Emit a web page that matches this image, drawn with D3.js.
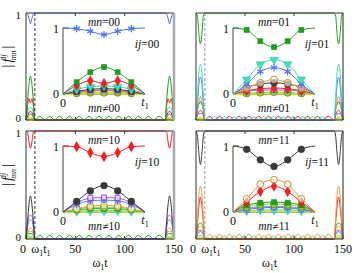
<!DOCTYPE html>
<html>
<head>
<meta charset="utf-8">
<script src="https://cdn.jsdelivr.net/npm/d3@7"></script>
<style>
  body { margin: 0; background: #fff; }
  text { font-family: "Liberation Serif", "DejaVu Serif", serif; fill: #111; }
</style>
</head>
<body>
<svg id="chart" width="355" height="273"></svg>
<script>
// inset time grid, in units of t1 (markers sit on the inner five points)
const insetT = [0, 1/6, 1/3, 1/2, 2/3, 5/6, 1];
const t1 = 9;
const tMax = 150;

// zeros and peaks of the small ripples between the two pulses
const rippleT = [9, 14, 19, 24, 29, 34, 39, 44, 49, 54, 59, 64, 69, 74, 79, 84, 89, 94, 99, 104, 109, 114, 119, 124, 129, 135, 141];
const rippleA = [0, .035, 0, .035, 0, .035, 0, .035, 0, .035, 0, .035, 0, .035, 0, .035, 0, .035, 0, .035, 0, .035, 0, .035, 0, .035, 0];
const rippleB = [0, 0, .03, 0, .03, 0, .03, 0, .03, 0, .03, 0, .03, 0, .03, 0, .03, 0, .03, 0, .03, 0, .03, 0, .03, 0, 0];
const rippleC = [0, .045, 0, .045, 0, .045, 0, .045, 0, .045, 0, .045, 0, .045, 0, .045, 0, .045, 0, .045, 0, .045, 0, .045, 0, .045, 0];

// |f| values on insetT, one object per panel (ij)
const ij00 = {
  yellow: [0, 0.00, 0.01, 0.01, 0.01, 0.00, 0],
  lime:   [0, 0.01, 0.02, 0.02, 0.02, 0.01, 0],
  orange: [0, 0.02, 0.04, 0.05, 0.04, 0.02, 0],
  purple: [0, 0.03, 0.05, 0.06, 0.05, 0.03, 0],
  grey:   [0, 0.04, 0.07, 0.08, 0.07, 0.04, 0],
  cyan:   [0, 0.07, 0.11, 0.12, 0.11, 0.07, 0],
  red:    [0, 0.13, 0.20, 0.16, 0.20, 0.13, 0],
  green:  [0, 0.18, 0.33, 0.41, 0.33, 0.18, 0],
  blue:   [1, 0.99, 0.95, 0.90, 0.95, 0.99, 1]
};
const ij01 = {
  yellow: [0, 0.00, 0.01, 0.01, 0.01, 0.00, 0],
  lime:   [0, 0.01, 0.02, 0.03, 0.02, 0.01, 0],
  purple: [0, 0.04, 0.06, 0.06, 0.06, 0.04, 0],
  red:    [0, 0.05, 0.08, 0.09, 0.08, 0.05, 0],
  grey:   [0, 0.10, 0.15, 0.17, 0.15, 0.10, 0],
  orange: [0, 0.09, 0.17, 0.22, 0.17, 0.09, 0],
  blue:   [0, 0.15, 0.34, 0.40, 0.34, 0.15, 0],
  cyan:   [0, 0.22, 0.45, 0.52, 0.45, 0.22, 0],
  green:  [1, 0.97, 0.80, 0.71, 0.80, 0.97, 1]
};
const ij10 = {
  yellow: [0, 0.00, 0.01, 0.01, 0.01, 0.00, 0],
  cyan:   [0, 0.01, 0.02, 0.02, 0.02, 0.01, 0],
  green:  [0, 0.03, 0.05, 0.05, 0.05, 0.03, 0],
  lime:   [0, 0.04, 0.07, 0.07, 0.07, 0.04, 0],
  orange: [0, 0.05, 0.09, 0.10, 0.09, 0.05, 0],
  blue:   [0, 0.11, 0.17, 0.18, 0.17, 0.11, 0],
  purple: [0, 0.14, 0.21, 0.22, 0.21, 0.14, 0],
  grey:   [0, 0.16, 0.32, 0.40, 0.32, 0.16, 0],
  red:    [1, 0.99, 0.90, 0.84, 0.90, 0.99, 1]
};
const ij11 = {
  yellow: [0, 0.01, 0.01, 0.01, 0.01, 0.01, 0],
  cyan:   [0, 0.02, 0.03, 0.03, 0.03, 0.02, 0],
  blue:   [0, 0.04, 0.06, 0.07, 0.06, 0.04, 0],
  purple: [0, 0.05, 0.08, 0.08, 0.08, 0.05, 0],
  lime:   [0, 0.08, 0.11, 0.12, 0.11, 0.08, 0],
  green:  [0, 0.10, 0.14, 0.15, 0.14, 0.10, 0],
  red:    [0, 0.15, 0.31, 0.39, 0.31, 0.15, 0],
  orange: [0, 0.20, 0.42, 0.49, 0.42, 0.20, 0],
  grey:   [1, 0.95, 0.79, 0.69, 0.79, 0.95, 1]
};

const xTicks = [0, 50, 100, 150];

const colors = {
  blue: '#5070ff', green: '#1f9f1f', red: '#ff1f1f', cyan: '#3ce2b8', grey: '#3a3a3a',
  purple: '#a855ff', orange: '#f0a040', lime: '#8fe01e', yellow: '#e6e61a'
};

const panels = [
  { ij: '00', data: ij00, left: 26, right: 174, top: 13, bottom: 120, ripples: { green: rippleA }, dash: '#333', edge: '#aaa', yLabels: true, xLabels: false },
  { ij: '01', data: ij01, left: 196, right: 343, top: 13, bottom: 120, ripples: { red: rippleA, cyan: rippleB }, dash: '#999', edge: '#222', yLabels: false, xLabels: false },
  { ij: '10', data: ij10, left: 26, right: 174, top: 131, bottom: 239, ripples: { green: rippleA }, dash: '#333', edge: '#aaa', yLabels: true, xLabels: true },
  { ij: '11', data: ij11, left: 196, right: 343, top: 131, bottom: 239, ripples: { orange: rippleC, cyan: rippleB }, dash: '#999', edge: '#222', yLabels: false, xLabels: true }
];

const svg = d3.select('#chart');

function drawMarker(g, name, cx, cy) {
  const c = colors[name];
  if (name === 'yellow') return;
  const types = {
    blue: d3.symbolAsterisk || d3.symbolCross, green: d3.symbolSquare, red: d3.symbolDiamond,
    cyan: d3.symbolTriangle, grey: d3.symbolCircle, purple: d3.symbolSquare,
    orange: d3.symbolCircle, lime: d3.symbolCircle
  };
  const sizes = { blue: 36, green: 26, red: 30, cyan: 32, grey: 36, purple: 24, orange: 36, lime: 40 };
  const m = g.append('path')
    .attr('d', d3.symbol().type(types[name]).size(sizes[name])())
    .attr('transform', `translate(${cx},${cy})` + (name === 'cyan' ? ' rotate(180)' : ''));
  if (name === 'blue') m.attr('fill', 'none').attr('stroke', c).attr('stroke-width', 1.2);
  else if (name === 'purple' || name === 'orange') m.attr('fill', '#fff').attr('fill-opacity', 0.6).attr('stroke', d3.color(c).darker(0.4)).attr('stroke-width', 1);
  else if (name === 'lime') m.attr('fill', c).attr('stroke', '#4f8f10').attr('stroke-width', 0.8);
  else m.attr('fill', c).attr('stroke', d3.color(c).darker(0.6)).attr('stroke-width', 0.5);
}

panels.forEach(p => {
  const g = svg.append('g');
  const x = d3.scaleLinear().domain([0, tMax]).range([p.left, p.right]);
  const y = d3.scaleLinear().domain([0, 1]).range([p.bottom, p.top]);
  const line = d3.line().x(d => x(d[0])).y(d => y(d[1])).curve(d3.curveMonotoneX);
  const names = Object.keys(p.data);

  // main curves: pulse at both ends, ripples in between
  names.forEach(name => {
    const v = p.data[name];
    const leftPart = insetT.map((f, i) => [f * t1, v[i]]);
    const rightPart = insetT.map((f, i) => [tMax - t1 + f * t1, v[i]]);
    const rip = p.ripples[name];
    const mid = rip ? rippleT.slice(1, -1).map((t, i) => [t, rip[i + 1]]) : [];
    g.append('path')
      .datum(leftPart.concat(mid, rightPart))
      .attr('d', line)
      .attr('fill', 'none')
      .attr('stroke', colors[name])
      .attr('stroke-width', name === 'yellow' ? 2 : 1);
  });

  // dashed line at t1
  g.append('line')
    .attr('x1', x(t1)).attr('x2', x(t1)).attr('y1', p.top).attr('y2', p.bottom)
    .attr('stroke', p.dash).attr('stroke-width', 1).attr('stroke-dasharray', '3,2');

  // frame
  g.append('path')
    .attr('d', `M${p.right},${p.top}H${p.left}V${p.bottom}H${p.right}`)
    .attr('fill', 'none').attr('stroke', '#333').attr('stroke-width', 1);
  g.append('line')
    .attr('x1', p.right).attr('x2', p.right).attr('y1', p.top).attr('y2', p.bottom)
    .attr('stroke', p.edge).attr('stroke-width', p.edge === '#aaa' ? 2.5 : 1);

  // inward ticks
  xTicks.slice(1, -1).forEach(t => {
    g.append('line').attr('x1', x(t)).attr('x2', x(t)).attr('y1', p.top).attr('y2', p.top + 3).attr('stroke', '#333');
    g.append('line').attr('x1', x(t)).attr('x2', x(t)).attr('y1', p.bottom).attr('y2', p.bottom - 3).attr('stroke', '#333');
  });

  if (p.yLabels) {
    g.append('text').attr('x', p.left - 5).attr('y', y(1) + 6).attr('text-anchor', 'end').attr('font-size', 11).text('1');
    g.append('text').attr('x', p.left - 5).attr('y', y(0) + 2).attr('text-anchor', 'end').attr('font-size', 11).text('0');
    const yl = g.append('text')
      .attr('transform', `translate(12,${(p.top + p.bottom) / 2 - 10}) rotate(-90)`)
      .attr('text-anchor', 'middle').attr('font-size', 14);
    yl.append('tspan').text('|');
    yl.append('tspan').attr('font-style', 'italic').attr('dx', 2).text('f');
    yl.append('tspan').attr('font-style', 'italic').attr('font-size', 8).attr('dy', -6).text('ij');
    yl.append('tspan').attr('font-style', 'italic').attr('font-size', 8).attr('dx', -6).attr('dy', 10).text('mn');
    yl.append('tspan').attr('dx', 2).attr('dy', -4).text('|');
  }

  if (p.xLabels) {
    const by = p.bottom + 14;
    xTicks.forEach(t => {
      g.append('text').attr('x', x(t) - (t === 0 ? 3 : 0)).attr('y', by)
        .attr('text-anchor', 'middle').attr('font-size', 12).text(t);
    });
    const w = g.append('text').attr('x', x(t1) + 6).attr('y', by).attr('text-anchor', 'middle').attr('font-size', 12);
    w.append('tspan').text('ω');
    w.append('tspan').attr('font-size', 8).attr('dy', 3).text('1');
    w.append('tspan').attr('dy', -3).text('t');
    w.append('tspan').attr('font-size', 8).attr('dy', 3).text('1');
    const xl = g.append('text').attr('x', (p.left + p.right) / 2).attr('y', 267).attr('text-anchor', 'middle').attr('font-size', 12);
    xl.append('tspan').text('ω');
    xl.append('tspan').attr('font-size', 8).attr('dy', 3).text('1');
    xl.append('tspan').attr('dy', -3).text('t');
  }

  // inset
  const xi = d3.scaleLinear().domain([0, 1]).range([p.left + 37, p.left + 119]);
  const yi = d3.scaleLinear().domain([0, 1]).range([p.top + 81, p.top + 15]);
  const iline = d3.line().x(d => xi(d[0])).y(d => yi(d[1])).curve(d3.curveMonotoneX);
  g.append('path')
    .attr('d', `M${xi(0) + 6},${yi(1)}H${xi(0)}V${yi(0)}H${xi(1)}`)
    .attr('fill', 'none').attr('stroke', '#444').attr('stroke-width', 1);
  names.forEach(name => {
    g.append('path')
      .datum(insetT.map((f, i) => [f, p.data[name][i]]))
      .attr('d', iline)
      .attr('fill', 'none')
      .attr('stroke', colors[name])
      .attr('stroke-width', name === 'yellow' ? 2 : 1);
  });
  names.forEach(name => {
    insetT.slice(1, -1).forEach((f, i) => drawMarker(g, name, xi(f), yi(p.data[name][i + 1])));
  });

  g.append('text').attr('x', xi(0) - 4).attr('y', yi(1) + 5).attr('text-anchor', 'end').attr('font-size', 12).text('1');
  g.append('text').attr('x', xi(0) - 4).attr('y', yi(0) + 4).attr('text-anchor', 'end').attr('font-size', 12).text('0');
  g.append('text').attr('x', xi(0)).attr('y', yi(0) + 13).attr('text-anchor', 'middle').attr('font-size', 12).text('0');
  const tl = g.append('text').attr('x', xi(1)).attr('y', yi(0) + 12).attr('text-anchor', 'middle').attr('font-size', 12);
  tl.append('tspan').attr('font-style', 'italic').text('t');
  tl.append('tspan').attr('font-size', 8).attr('dy', 3).text('1');

  const top = g.append('text').attr('x', xi(0.5)).attr('y', p.top + 13).attr('text-anchor', 'middle').attr('font-size', 11.5);
  top.append('tspan').attr('font-style', 'italic').text('mn');
  top.append('tspan').text('=' + p.ij);
  const bot = g.append('text').attr('x', xi(0.5)).attr('y', p.top + 99).attr('text-anchor', 'middle').attr('font-size', 11.5);
  bot.append('tspan').attr('font-style', 'italic').text('mn');
  bot.append('tspan').text('≠' + p.ij);
  const ijl = g.append('text').attr('x', p.left + 121).attr('y', p.top + 35).attr('text-anchor', 'middle').attr('font-size', 11.5);
  ijl.append('tspan').attr('font-style', 'italic').text('ij');
  ijl.append('tspan').text('=' + p.ij);
});
</script>
</body>
</html>
